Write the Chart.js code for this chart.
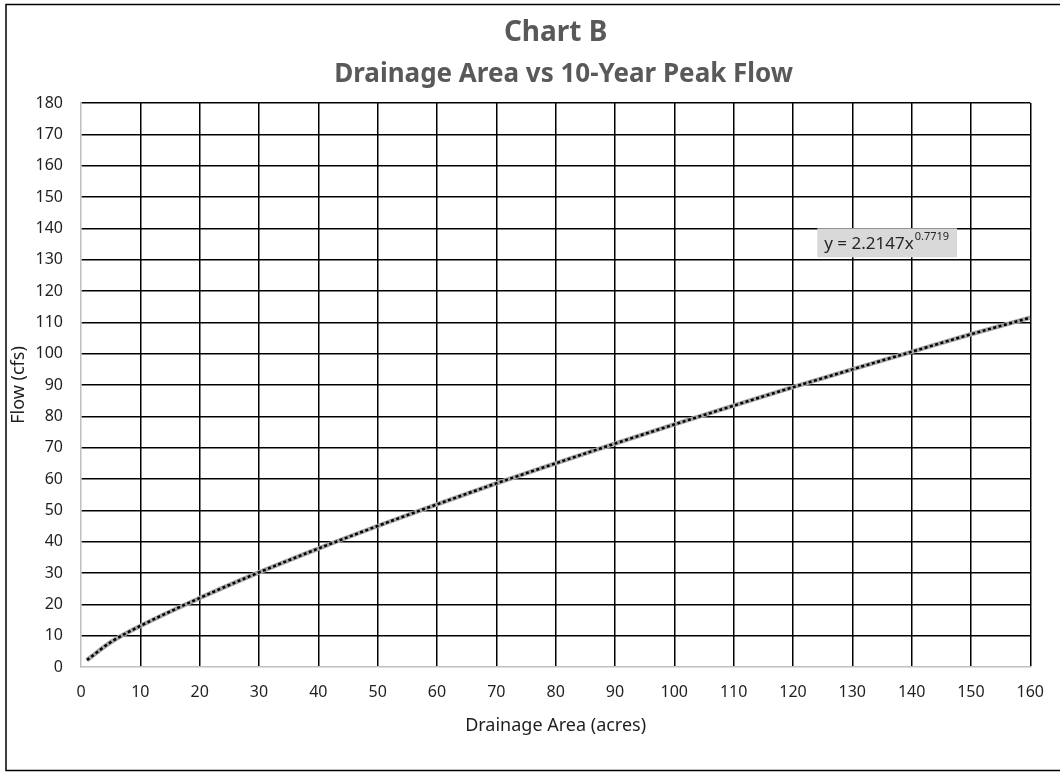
<!DOCTYPE html>
<html>
<head>
<meta charset="utf-8">
<title>Chart B</title>
<script src="https://cdn.jsdelivr.net/npm/chart.js@4.4.1/dist/chart.umd.min.js"></script>
<style>
  html, body { margin: 0; padding: 0; background: #fff; }
  #wrap { width: 1060px; height: 772px; }
</style>
</head>
<body>
<div id="wrap"><canvas id="chart" width="1060" height="772"></canvas></div>
<script>
// ── Data ─────────────────────────────────────────────────────────────────────
const areaAcres = [1, 5, 10, 20, 30, 40, 50, 60, 70, 80, 90, 100, 110, 120, 130, 140, 150, 160];
const flowCfs   = [2.2, 7.9, 13.1, 22.0, 30.2, 37.8, 45.0, 51.9, 58.6, 65.0, 71.3, 77.4, 83.4, 89.3, 95.0, 100.6, 106.2, 111.5];

const titleLines   = ["Chart B", "Drainage Area vs 10-Year Peak Flow"];
const equationText = "y = 2.2147x";
const equationExp  = "0.7719";
const equationAt   = { x: 124.1, y: 140 };   // top-left of label box, data units

const X_MIN = 0, X_MAX = 160, X_STEP = 10;
const Y_MIN = 0, Y_MAX = 180, Y_STEP = 10;

const FONT = "'Noto Sans', 'Open Sans', sans-serif";

const points = areaAcres.map((x, i) => ({ x, y: flowCfs[i] }));

// hide the grid line at 0 so the grey axis border shows through
const gridColor = (ctx) => (ctx.tick && ctx.tick.value === 0 ? "rgba(0,0,0,0)" : "#000");

// ── Plugins ──────────────────────────────────────────────────────────────────
const frameAndTitle = {
  id: "frameAndTitle",
  beforeDraw(chart) {
    const { ctx } = chart;
    ctx.save();
    ctx.strokeStyle = "#000";
    ctx.lineWidth = 1.5;
    ctx.strokeRect(6, 4.5, 1100, 766);
    ctx.restore();
  },
  afterDraw(chart) {
    const { ctx, chartArea, scales } = chart;
    const cx = (chartArea.left + chartArea.right) / 2;
    ctx.save();
    ctx.fillStyle = "#595959";
    ctx.textAlign = "center";
    ctx.textBaseline = "middle";
    ctx.font = "bold 28px " + FONT;
    ctx.fillText(titleLines[0], cx, 33);
    ctx.font = "bold 26px " + FONT;
    ctx.fillText(titleLines[1], cx + 8, 75);

    // trendline equation label
    const bx = scales.x.getPixelForValue(equationAt.x);
    const by = scales.y.getPixelForValue(equationAt.y);
    ctx.font = "17px " + FONT;
    const w1 = ctx.measureText(equationText).width;
    ctx.font = "11px " + FONT;
    const w2 = ctx.measureText(equationExp).width;
    const boxW = w1 + w2 + 16;
    ctx.fillStyle = "#d9d9d9";
    ctx.fillRect(bx, by, boxW, 29);
    ctx.fillStyle = "#262626";
    ctx.textAlign = "left";
    ctx.textBaseline = "alphabetic";
    ctx.font = "17px " + FONT;
    ctx.fillText(equationText, bx + 7, by + 21);
    ctx.font = "11px " + FONT;
    ctx.fillText(equationExp, bx + 7 + w1 + 1, by + 12);
    ctx.restore();
  },
};

// ── Chart ────────────────────────────────────────────────────────────────────
new Chart(document.getElementById("chart"), {
  type: "scatter",
  data: {
    datasets: [
      {
        label: "Trend",
        data: points,
        showLine: true,
        borderColor: "#000",
        borderWidth: 2.5,
        borderDash: [3, 2.5],
        pointRadius: 0,
        cubicInterpolationMode: "monotone",
        order: 1,
      },
      {
        label: "Flow",
        data: points,
        showLine: true,
        borderColor: "#a6a6a6",
        borderWidth: 4.5,
        pointRadius: 0,
        cubicInterpolationMode: "monotone",
        order: 2,
      },
    ],
  },
  options: {
    responsive: false,
    animation: false,
    layout: { padding: { top: 103, left: 0, right: 24, bottom: 0 } },
    plugins: {
      legend: { display: false },
      tooltip: { enabled: false },
      title: { display: false },
    },
    scales: {
      x: {
        type: "linear",
        min: X_MIN,
        max: X_MAX,
        afterFit: (s) => { s.height = 105; },
        ticks: { stepSize: X_STEP, padding: 16, color: "#1f1f1f", font: { family: FONT, size: 16 } },
        grid: { color: gridColor, lineWidth: 1.5, drawTicks: false },
        border: { color: "#bfbfbf", width: 1.5 },
        title: {
          display: true,
          text: "Drainage Area (acres)",
          color: "#1f1f1f",
          font: { family: FONT, size: 18 },
          padding: { top: 0, bottom: 35 },
        },
      },
      y: {
        type: "linear",
        min: Y_MIN,
        max: Y_MAX,
        afterFit: (s) => { s.width = 81; },
        ticks: { stepSize: Y_STEP, padding: 18, color: "#1f1f1f", font: { family: FONT, size: 16 } },
        grid: { color: gridColor, lineWidth: 1.5, drawTicks: false },
        border: { color: "#bfbfbf", width: 1.5 },
        title: {
          display: true,
          text: "Flow (cfs)",
          color: "#1f1f1f",
          font: { family: FONT, size: 18 },
          padding: { top: 8, bottom: 0 },
        },
      },
    },
  },
  plugins: [frameAndTitle],
});
</script>
</body>
</html>
